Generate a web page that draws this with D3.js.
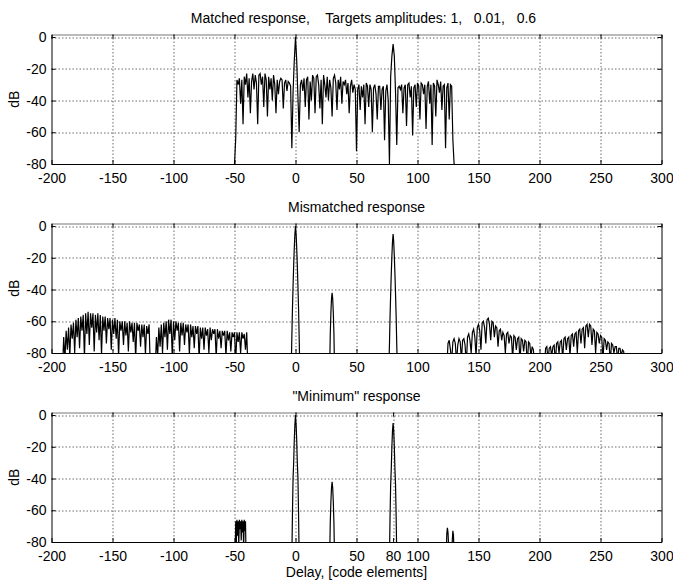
<!DOCTYPE html>
<html><head><meta charset="utf-8">
<script src="https://cdn.jsdelivr.net/npm/d3@7"></script>
<style>
body{margin:0;background:#fff}
svg{display:block}
text{font-family:"Liberation Sans",Arial,Helvetica,sans-serif;font-size:14px;fill:#000;white-space:pre}
</style>
</head><body>
<svg id="c" width="673" height="580"></svg>
<script>
// ---------- tick labels ----------
const xTicksA = [-200,-150,-100,-50,0,50,100,150,200,250,300];
const xTicksC = [-200,-150,-100,-50,0,50,80,100,150,200,250,300];
const yTicks = [0,-20,-40,-60,-80];
const titles = ["Matched response,    Targets amplitudes: 1,   0.01,   0.6", "Mismatched response", "\"Minimum\" response"];
const xLabel = "Delay, [code elements]";
const yLabel = "dB";

// ---------- matched response, delays -50..130 step 1 ----------
const matchedStart = -50;
const matched = [
-80,-64,-27,-30,-26,-42,-27,-55,-25,-30,   // -50..-41
-23,-38,-26,-48,-28,-23,-33,-24,-29,-55,   // -40..-31
-24,-23,-30,-25,-44,-23,-27,-50,-25,-33,   // -30..-21
-26,-40,-24,-30,-48,-27,-36,-28,-26,-27,   // -20..-11
-45,-29,-27,-34,-28,-29,-31,-70,-35,-15,   // -10..-1
0,-15,-38,-60,-30,-27,-34,-26,-44,-27,     // 0..9
-25,-52,-28,-40,-24,-26,-48,-25,-24,-30,   // 10..19
-45,-27,-55,-24,-30,-38,-25,-40,-27,-32,   // 20..29
-50,-26,-24,-29,-46,-27,-33,-25,-42,-28,   // 30..39
-30,-27,-36,-29,-48,-31,-27,-35,-30,-33,   // 40..49
-72,-33,-30,-46,-31,-38,-30,-55,-29,-31,   // 50..59
-44,-30,-33,-60,-32,-30,-36,-52,-31,-31,   // 60..69
-46,-33,-31,-65,-34,-30,-40,-80,-25,-12,   // 70..79
-4.5,-12,-35,-68,-32,-31,-33,-30,-48,-32,  // 80..89
-30,-56,-30,-29,-38,-31,-62,-32,-30,-44,   // 90..99
-29,-31,-52,-29,-30,-36,-30,-58,-31,-28,   // 100..109
-42,-30,-68,-29,-31,-50,-27,-30,-35,-28,   // 110..119
-46,-31,-30,-70,-32,-29,-52,-30,-31,-65,   // 120..129
-80                                        // 130
];

// ---------- mismatched response ----------
const mmAStart = -191;
const mmA = [
-90,
-70,-84,-66,-78,-64,-82,-62,-71,-61,-80,
-59,-70,-58,-77,-57,-66,-56,-83,-55,-68,
-54,-75,-55,-64,-55,-79,-56,-67,-55,-72,
-56,-81,-57,-66,-57,-74,-58,-65,-58,-78,
-59,-68,-58,-71,-59,-82,-60,-66,-60,-75,
-60,-69,-61,-79,-60,-67,-61,-73,-61,-84,
-61,-66,-62,-76,-62,-70,-62,-81,-63,-68,
-62,-90
];
const mmBStart = -115;
const mmB = [
-90,
-70,-82,-64,-76,-62,-80,-61,-70,-60,-78,
-59,-68,-59,-83,-60,-72,-60,-66,-61,-79,
-61,-69,-61,-75,-62,-67,-62,-81,-62,-70,
-63,-77,-63,-68,-63,-84,-64,-71,-64,-78,
-64,-69,-65,-80,-64,-72,-65,-68,-65,-83,
-65,-71,-66,-77,-66,-69,-66,-82,-66,-72,
-67,-79,-67,-70,-67,-85,-67,-73,-67,-80,
-67,-71,-68,-78,-67,
-90
];
const mmPeak0Start = -3.5;
const mmPeak0 = [-90,-70,-52,-38,-25,-14,-5,0,-5,-14,-25,-38,-52,-70,-90];
const mmPeak30Start = 28;
const mmPeak30 = [-90,-68,-55,-46,-42,-46,-55,-68,-90];
const mmPeak80Start = 76.5;
const mmPeak80 = [-90,-75,-57,-43,-30,-19,-10,-5,-10,-19,-30,-43,-57,-75,-90];
const mmCStart = 124;
const mmC = [
-90,-74,-72,-78,-85,-73,-71,-74,-86,-75,   // 124..133
-71,-73,-84,-72,-71,-75,-88,-70,-68,-72,   // 134..143
-80,-67,-65,-70,-82,-64,-62,-66,-78,-61,   // 144..153
-60,-64,-74,-59,-58,-62,-72,-60,-61,-70,   // 154..163
-63,-64,-76,-66,-65,-72,-67,-69,-80,-68,   // 164..173
-67,-74,-69,-70,-84,-69,-70,-78,-71,-70,   // 174..183
-86,-71,-72,-79,-72,-73,-88,-73,-74,-82,   // 184..193
-76,-78,-90                                // 194..196
];
const mmDStart = 204;
const mmD = [
-90,-77,-76,-84,-77,-76,-82,-76,-75,-86,   // 204..213
-74,-73,-80,-73,-72,-84,-71,-70,-78,-71,   // 214..223
-70,-82,-69,-68,-76,-68,-67,-80,-66,-65,   // 224..233
-74,-65,-64,-77,-63,-62,-70,-62,-63,-75,   // 234..243
-65,-66,-80,-67,-68,-74,-69,-70,-84,-71,   // 244..253
-72,-78,-73,-74,-86,-74,-75,-80,-76,-76,   // 254..263
-84,-77,-77,-82,-78,-79,-90                // 264..270
];

// ---------- "minimum" response ----------
const minBlockStart = -49.5;
const minBlock = [-90,-67,-80,-66,-76,-67,-82,-66,-72,-67,-79,-66,-74,-67,-84,-66,-73,-67,-90];
const minPeak0Start = -3;
const minPeak0 = [-90,-62,-40,-30,-16,-6,0,-6,-16,-30,-40,-62,-90];
const minPeak30Start = 28;
const minPeak30 = [-90,-68,-55,-46,-42,-46,-55,-68,-90];
const minPeak80Start = 77;
const minPeak80 = [-90,-64,-44,-34,-20,-10,-5,-10,-20,-34,-44,-64,-90];
const minSmallStart = 123.5;
const minSmall = [-90,-75,-71,-74,-82,-90,-90,-90,-90,-90,-79,-73,-76,-90];

// ---------- drawing ----------
const svg = d3.select("#c");
const L = 51.5, W = 610, H = 129.5;
const tops = [34.5, 223.5, 412.5];
const titleShift = [7, 0, 0];

const panels = [
  {title: titles[0], xt: xTicksA, segs: [[matchedStart, 1, matched]]},
  {title: titles[1], xt: xTicksA, segs: [[mmAStart,1,mmA],[mmBStart,1,mmB],[mmPeak0Start,0.5,mmPeak0],[mmPeak30Start,0.5,mmPeak30],[mmPeak80Start,0.5,mmPeak80],[mmCStart,1,mmC],[mmDStart,1,mmD]]},
  {title: titles[2], xt: xTicksC, segs: [[minBlockStart,0.5,minBlock],[minPeak0Start,0.5,minPeak0],[minPeak30Start,0.5,minPeak30],[minPeak80Start,0.5,minPeak80],[minSmallStart,0.5,minSmall]], xlabel: true}
];

const x = d3.scaleLinear().domain([-200, 300]).range([0, W]);
const y = d3.scaleLinear().domain([-80, 1.6]).range([H, 0]);

panels.forEach((p, i) => {
  const g = svg.append("g").attr("transform", `translate(${L},${tops[i]})`);
  g.append("clipPath").attr("id", "clip" + i)
    .append("rect").attr("x", 0).attr("y", 0).attr("width", W).attr("height", H);

  // grid
  g.append("g").selectAll("line").data(p.xt.filter(t => t > -200 && t < 300)).join("line")
    .attr("x1", d => Math.round(x(d)) + 0.5).attr("x2", d => Math.round(x(d)) + 0.5)
    .attr("y1", 0).attr("y2", H)
    .attr("stroke", "#444").attr("stroke-width", 0.8).attr("stroke-dasharray", "1.5,2");
  g.append("g").selectAll("line").data(yTicks.filter(t => t > -80)).join("line")
    .attr("x1", 0).attr("x2", W)
    .attr("y1", d => Math.round(y(d)) + 0.5).attr("y2", d => Math.round(y(d)) + 0.5)
    .attr("stroke", "#444").attr("stroke-width", 0.8).attr("stroke-dasharray", "1.5,2");

  // data lines
  const line = d3.line().x(d => x(d[0])).y(d => y(d[1]));
  const lg = g.append("g").attr("clip-path", `url(#clip${i})`);
  p.segs.forEach(([start, step, vals]) => {
    const pts = vals.map((v, k) => [start + k * step, v]);
    lg.append("path").attr("d", line(pts)).attr("fill", "none")
      .attr("stroke", "#000").attr("stroke-width", 1.2).attr("stroke-linejoin", "miter");
  });

  // axes (MATLAB style: inward ticks, full box)
  const ax = g.append("g");
  const bottom = d3.axisBottom(x).tickValues(p.xt).tickSizeInner(-4).tickSizeOuter(0).tickFormat(d3.format("d"));
  const top = d3.axisTop(x).tickValues(p.xt).tickSizeInner(-4).tickSizeOuter(0).tickFormat("");
  const left = d3.axisLeft(y).tickValues(yTicks).tickSizeInner(-4).tickSizeOuter(0).tickFormat(d3.format("d"));
  const right = d3.axisRight(y).tickValues(yTicks).tickSizeInner(-4).tickSizeOuter(0).tickFormat("");
  const gb = ax.append("g").attr("transform", `translate(0,${H})`).call(bottom);
  const gt = ax.append("g").call(top);
  const gl = ax.append("g").call(left);
  const gr = ax.append("g").attr("transform", `translate(${W},0)`).call(right);
  [gb, gt, gl, gr].forEach(a => {
    a.select(".domain").attr("stroke", "#000").attr("stroke-width", 1);
    a.selectAll(".tick line").attr("stroke", "#000");
    a.selectAll("text").attr("fill", "#000").attr("font-family", null).attr("font-size", null);
  });
  gb.selectAll("text").attr("y", 9).attr("dy", "0.71em").text(d => d < 0 ? "-" + Math.abs(d) : d);
  gl.selectAll("text").attr("x", -5).text(d => d < 0 ? "-" + Math.abs(d) : d);
  gt.select(".domain").attr("stroke", "#777");

  // title
  g.append("text").attr("x", W / 2 + titleShift[i]).attr("y", -12).attr("text-anchor", "middle").text(p.title);
  // y label
  g.append("text").attr("transform", `translate(-33,${H / 2}) rotate(-90)`).attr("text-anchor", "middle").text(yLabel);
  if (p.xlabel) {
    g.append("text").attr("x", W / 2).attr("y", H + 35).attr("text-anchor", "middle").text(xLabel);
  }
});
</script>
</body></html>
